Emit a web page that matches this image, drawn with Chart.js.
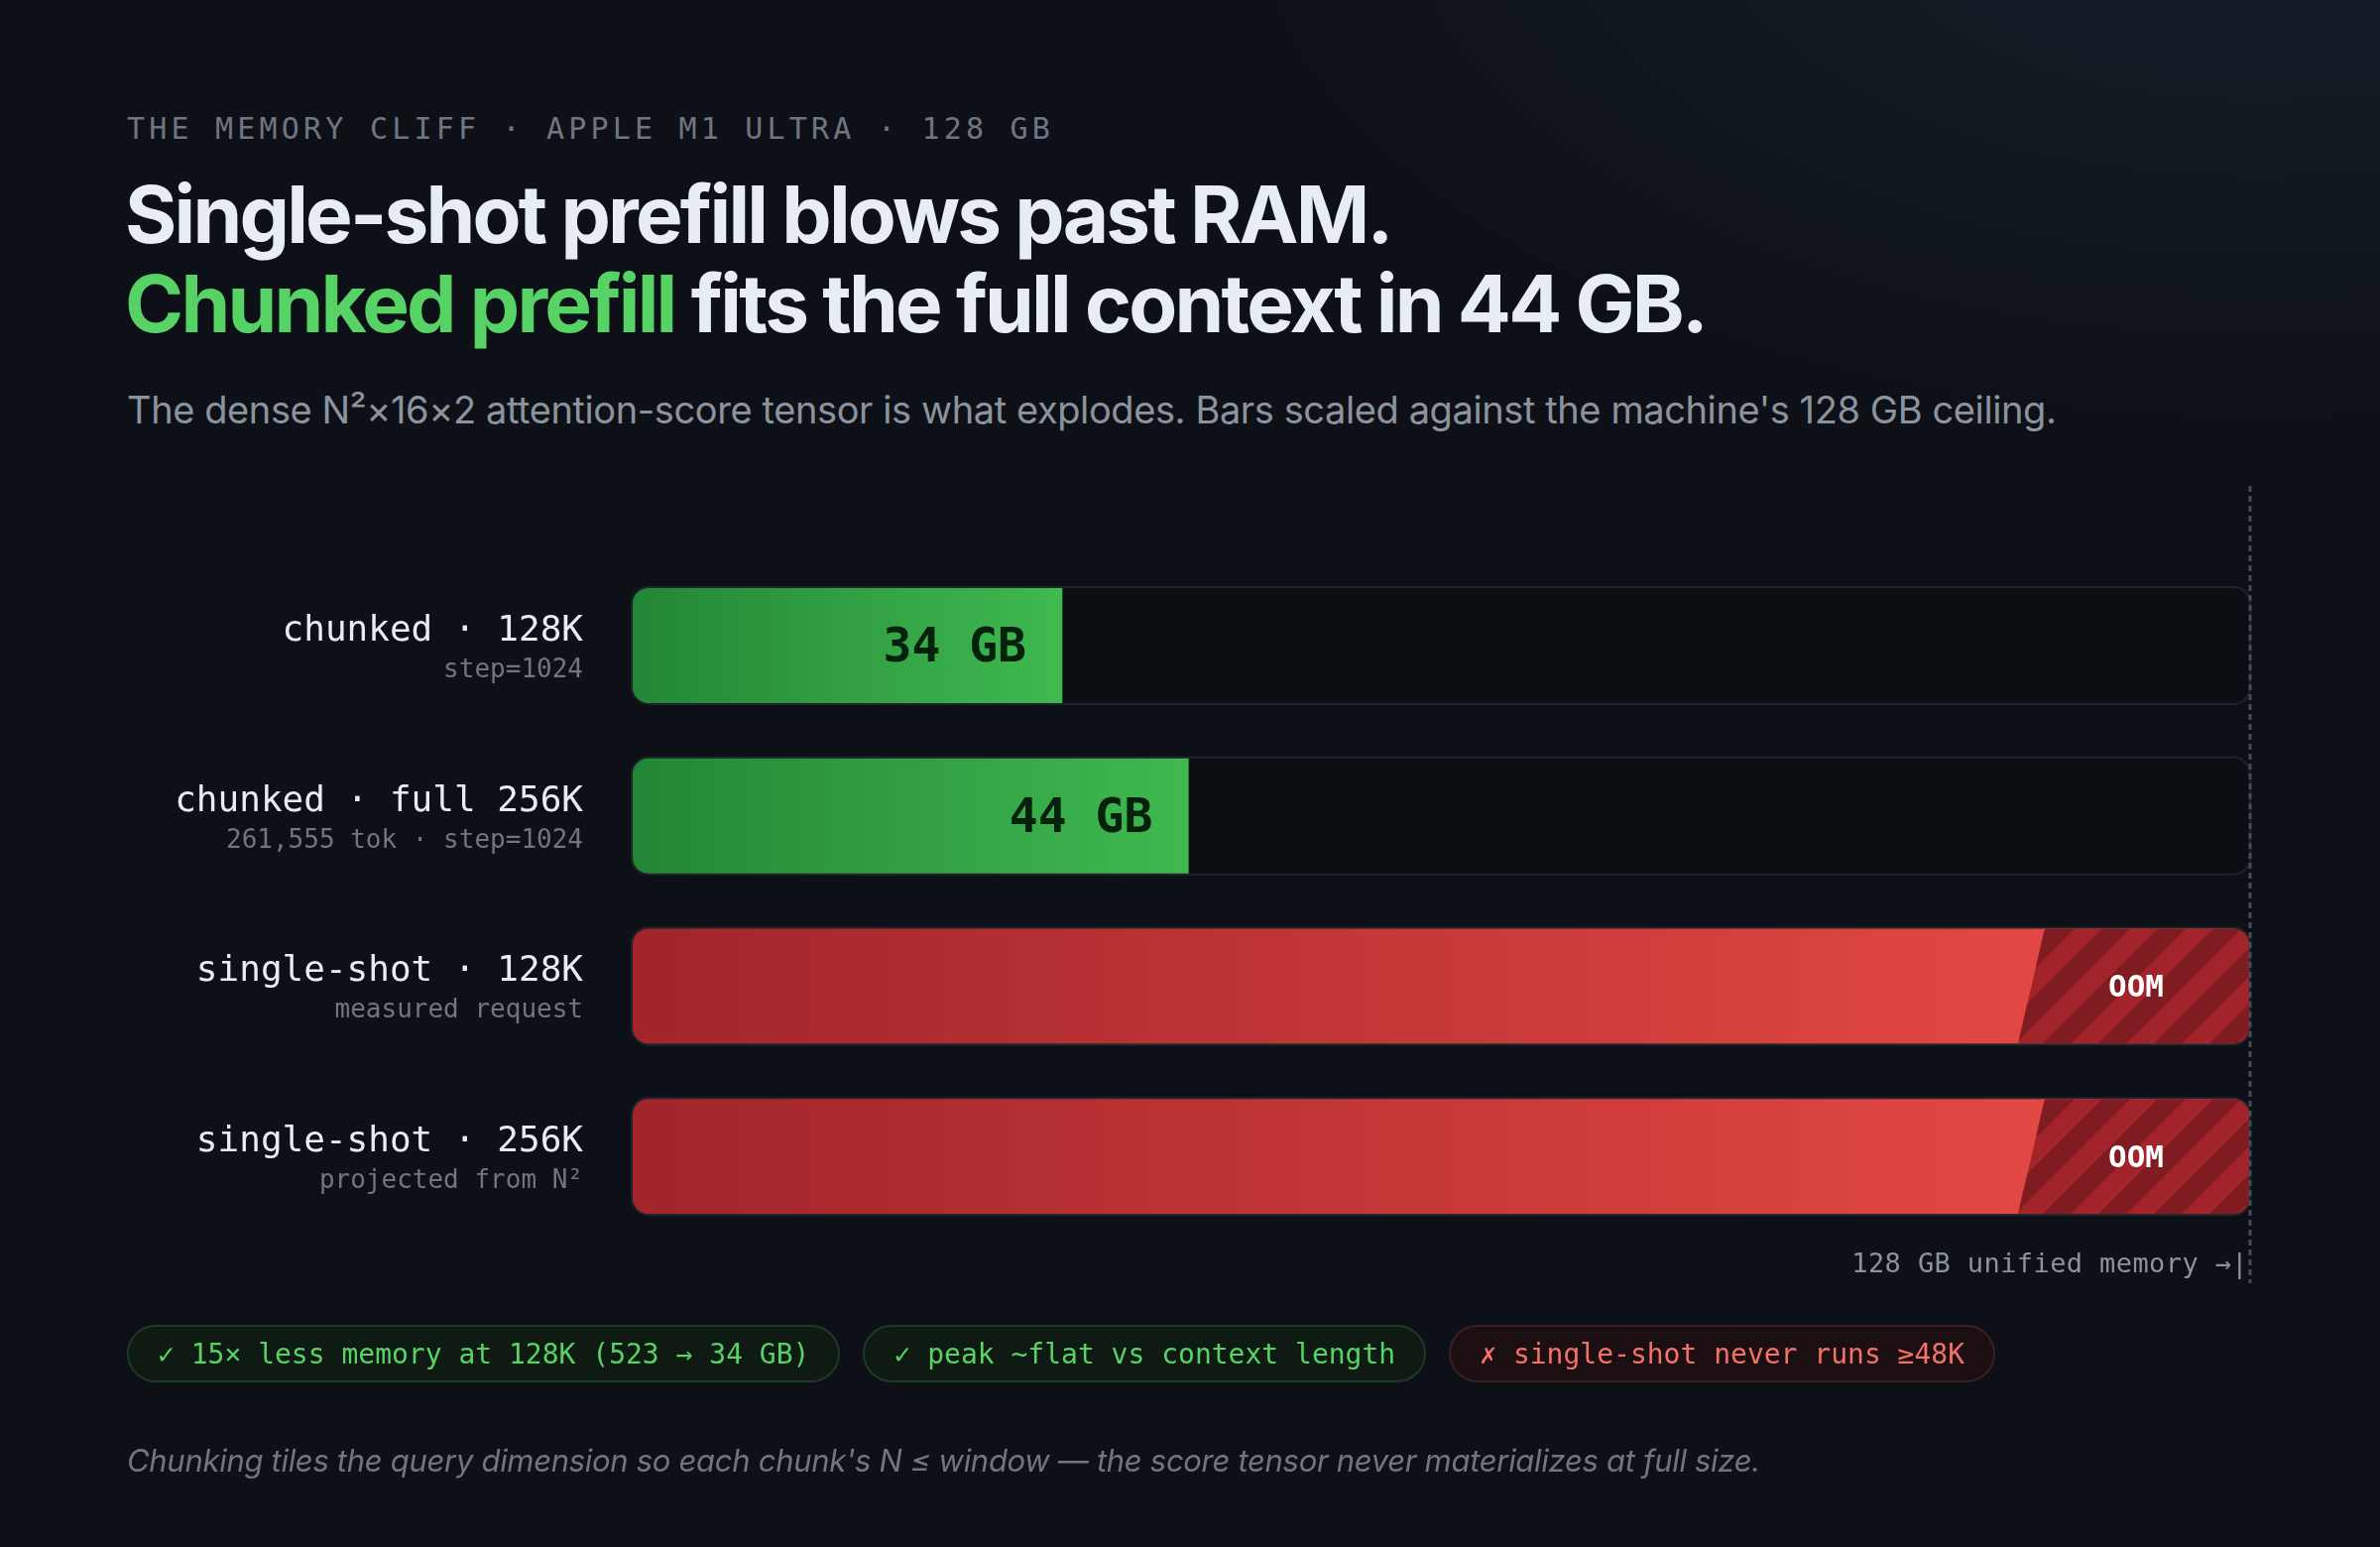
<!DOCTYPE html>
<html>
<head>
<meta charset="utf-8">
<script src="https://cdn.jsdelivr.net/npm/chart.js@4"></script>
<style>
html, body { margin: 0; padding: 0; }
body {
	width: 2400px; height: 1560px; overflow: hidden; position: relative;
	background: radial-gradient(1500px 800px at 95% -8%, #16202a 0%, rgba(13,17,23,0) 70%), #0d1117;
	font-family: Inter, "Noto Sans", sans-serif;
}
#chart_memoria { position: absolute; left: 0; top: 0; }
.eyebrow {
	position: absolute; left: 128px; top: 112px; line-height: 30px;
	font: 30px "DejaVu Sans Mono", monospace; letter-spacing: 4.2px; color: #6e7681; white-space: nowrap;
}
.titulo {
	position: absolute; left: 126px; top: 171px; line-height: 90px;
	font-size: 80px; font-weight: 700; letter-spacing: -2.8px; color: #e6edf3; white-space: nowrap;
}
.titulo .verde { color: #56d364; }
.subtitulo {
	position: absolute; left: 128px; top: 394px; line-height: 38px;
	font-size: 38px; letter-spacing: -0.4px; color: #8b949e; white-space: nowrap;
}
.chips { position: absolute; left: 128px; top: 1336px; display: flex; gap: 23px; }
.chip {
	height: 58px; box-sizing: border-box; padding: 0 29px; border-radius: 29px;
	display: flex; align-items: center; line-height: 1;
	font: 28px "DejaVu Sans Mono", monospace; white-space: nowrap; border: 2px solid;
}
.chip.ok { color: #56d364; background: #0f1a13; border-color: #1d3a26; }
.chip.mal { color: #f47068; background: #1b0f12; border-color: #3e1e22; }
.nota {
	position: absolute; left: 128px; top: 1457px; line-height: 31px;
	font-size: 31px; letter-spacing: -0.3px; font-style: italic; color: #6e7681; white-space: nowrap;
}
</style>
</head>
<body>
<div class="eyebrow">THE MEMORY CLIFF · APPLE M1 ULTRA · 128 GB</div>
<div class="titulo">Single-shot prefill blows past RAM.<br><span class="verde">Chunked prefill</span> fits the full context in 44 GB.</div>
<div class="subtitulo">The dense N²×16×2 attention-score tensor is what explodes. Bars scaled against the machine's 128 GB ceiling.</div>
<canvas id="chart_memoria" width="2400" height="1560"></canvas>
<div class="chips">
	<div class="chip ok">✓ 15× less memory at 128K (523 → 34 GB)</div>
	<div class="chip ok">✓ peak ~flat vs context length</div>
	<div class="chip mal">✗ single-shot never runs ≥48K</div>
</div>
<div class="nota">Chunking tiles the query dimension so each chunk's N ≤ window — the score tensor never materializes at full size.</div>
<script>
// datos
var row_labels = ["chunked · 128K", "chunked · full 256K", "single-shot · 128K", "single-shot · 256K"];
var row_notes = ["step=1024", "261,555 tok · step=1024", "measured request", "projected from N²"];
var peak_gb = [34, 44, 128, 128];          // OOM rows are clipped at the ceiling
var is_oom = [false, false, true, true];
var value_labels = ["34 GB", "44 GB", "OOM", "OOM"];
var ram_ceiling_gb = 128;
var ram_marker_label = "128 GB unified memory →|";

var MONO = '"DejaVu Sans Mono", monospace';
var BAR_H = 116;
var OOM_CAP_PX = 220;

function bar_fill(c){
	var chart = c.chart;
	var xs = chart.scales.x;
	var fallback = "#3fb950";
	if (c.dataIndex === undefined || !xs) { return fallback; }
	var i = c.dataIndex;
	if (is_oom[i]) { fallback = "#d03c3b"; }
	var x0 = xs.getPixelForValue(0);
	var x1 = xs.getPixelForValue(peak_gb[i]);
	if (!isFinite(x0) || !isFinite(x1) || x1 <= x0) { return fallback; }
	var g = chart.ctx.createLinearGradient(x0, 0, x1, 0);
	if (is_oom[i]) {
		g.addColorStop(0, "#a1252b");
		g.addColorStop(1, "#ec4d47");
	} else {
		g.addColorStop(0, "#238636");
		g.addColorStop(1, "#3fb950");
	}
	return g;
}
function bar_radius(c){
	if (c.dataIndex !== undefined && is_oom[c.dataIndex]) { return 16; }
	return {topLeft: 16, bottomLeft: 16, topRight: 0, bottomRight: 0};
}

function track_rect(ctx, xs, el){
	ctx.beginPath();
	ctx.roundRect(xs.getPixelForValue(0) - 1, el.y - BAR_H / 2 - 1, xs.getPixelForValue(ram_ceiling_gb) - xs.getPixelForValue(0) + 2, BAR_H + 2, 17);
}

var track_plugin = {
	id: "track_plugin",
	beforeDatasetsDraw: function(chart){
		var ctx = chart.ctx, xs = chart.scales.x;
		var meta = chart.getDatasetMeta(0);
		ctx.save();
		meta.data.forEach(function(el){
			track_rect(ctx, xs, el);
			ctx.fillStyle = "#0b0f13";
			ctx.fill();
		});
		ctx.restore();
	},
	afterDatasetsDraw: function(chart){
		var ctx = chart.ctx, xs = chart.scales.x;
		var meta = chart.getDatasetMeta(0);
		ctx.save();
		meta.data.forEach(function(el, i){
			var top = el.y - BAR_H / 2, bottom = el.y + BAR_H / 2;
			if (is_oom[i]) {
				// zona rayada al final de la barra
				var right = el.x;
				ctx.save();
				ctx.beginPath();
				ctx.roundRect(el.base, top, right - el.base, BAR_H, 16);
				ctx.clip();
				ctx.beginPath();
				ctx.moveTo(right - OOM_CAP_PX + 14, top);
				ctx.lineTo(right + 2, top);
				ctx.lineTo(right + 2, bottom);
				ctx.lineTo(right - OOM_CAP_PX - 13, bottom);
				ctx.closePath();
				ctx.clip();
				ctx.fillStyle = "#a3232b";
				ctx.fillRect(right - OOM_CAP_PX - 20, top, OOM_CAP_PX + 24, BAR_H);
				ctx.fillStyle = "#7e1c22";
				for (var sx = right - OOM_CAP_PX - BAR_H - 40; sx < right + 10; sx += 56) {
					ctx.beginPath();
					ctx.moveTo(sx, bottom);
					ctx.lineTo(sx + 28, bottom);
					ctx.lineTo(sx + 28 + BAR_H, top);
					ctx.lineTo(sx + BAR_H, top);
					ctx.closePath();
					ctx.fill();
				}
				ctx.restore();
				ctx.fillStyle = "#ffffff";
				ctx.font = "bold 31px " + MONO;
				ctx.textAlign = "center";
				ctx.textBaseline = "middle";
				ctx.fillText(value_labels[i], right - OOM_CAP_PX / 2 - 4, el.y + 3);
			} else {
				ctx.fillStyle = "#05200b";
				ctx.font = "bold 48px " + MONO;
				ctx.textAlign = "right";
				ctx.textBaseline = "middle";
				ctx.fillText(value_labels[i], el.x - 36, el.y + 4);
			}
			// borde de la pista
			track_rect(ctx, xs, el);
			ctx.lineWidth = 2;
			ctx.strokeStyle = "#1f242b";
			ctx.stroke();

			// etiquetas de fila
			var lx = xs.getPixelForValue(0) - 50;
			ctx.textAlign = "right";
			ctx.textBaseline = "alphabetic";
			ctx.fillStyle = "#e6edf3";
			ctx.font = "36px " + MONO;
			ctx.fillText(row_labels[i], lx, el.y - 5);
			ctx.fillStyle = "#6e7681";
			ctx.font = "26px " + MONO;
			ctx.fillText(row_notes[i], lx, el.y + 32);
		});
		ctx.restore();
	},
	afterDraw: function(chart){
		var ctx = chart.ctx, xs = chart.scales.x;
		var mx = xs.getPixelForValue(ram_ceiling_gb) + 1;
		ctx.save();
		ctx.strokeStyle = "#444c56";
		ctx.lineWidth = 3;
		ctx.setLineDash([6, 4]);
		ctx.beginPath();
		ctx.moveTo(mx, 490);
		ctx.lineTo(mx, 1294);
		ctx.stroke();
		ctx.setLineDash([]);
		ctx.fillStyle = "#8b949e";
		ctx.font = "27px " + MONO;
		ctx.letterSpacing = "0.4px";
		ctx.textAlign = "right";
		ctx.textBaseline = "alphabetic";
		ctx.fillText(ram_marker_label, mx - 2, 1283);
		ctx.restore();
	}
};

new Chart(document.getElementById("chart_memoria"), {
	type: "bar",
	data: {
		labels: row_labels,
		datasets: [{
			label: "peak memory (GB)",
			data: peak_gb,
			backgroundColor: bar_fill,
			borderRadius: bar_radius,
			borderSkipped: false,
			borderWidth: 0,
			barThickness: BAR_H
		}]
	},
	options: {
		indexAxis: "y",
		responsive: false,
		animation: false,
		devicePixelRatio: 1,
		layout: { padding: { left: 638, right: 132, top: 565, bottom: 308 } },
		scales: {
			x: { display: false, min: 0, max: ram_ceiling_gb },
			y: { display: false }
		},
		plugins: {
			legend: { display: false },
			tooltip: { enabled: false }
		}
	},
	plugins: [track_plugin]
});
</script>
</body>
</html>
